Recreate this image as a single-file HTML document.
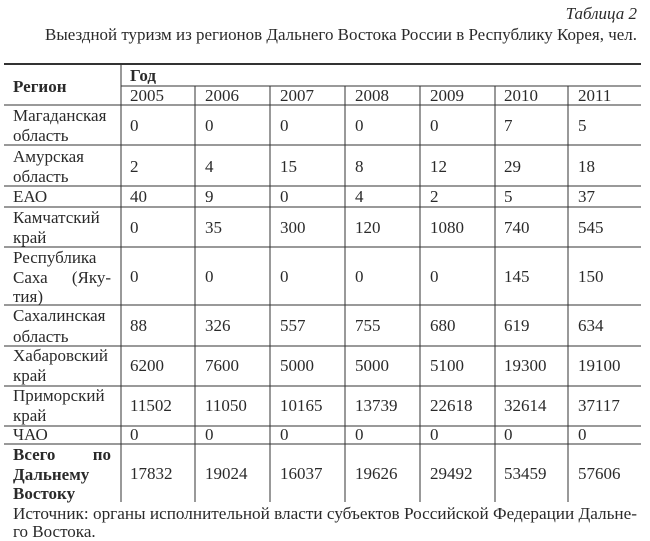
<!DOCTYPE html>
<html><head><meta charset="utf-8"><style>
html,body{margin:0;padding:0;background:#fff;width:650px;height:541px;overflow:hidden}
svg text{font-family:"Liberation Serif",serif;font-size:17px;fill:#2a2a2a}
.b{font-weight:bold}
</style></head><body>
<svg width="650" height="541" xmlns="http://www.w3.org/2000/svg">
<text x="637" y="19" text-anchor="end" font-style="italic">Таблица 2</text>
<text x="637" y="40" text-anchor="end" textLength="592" lengthAdjust="spacingAndGlyphs">Выездной туризм из регионов Дальнего Востока России в Республику Корея, чел.</text>
<g stroke="#333" stroke-width="1">
<line x1="4" y1="64" x2="641" y2="64" stroke-width="2"/>
<line x1="121" y1="86" x2="641" y2="86"/>
<line x1="4" y1="105" x2="641" y2="105"/>
<line x1="4" y1="145" x2="641" y2="145"/>
<line x1="4" y1="186" x2="641" y2="186"/>
<line x1="4" y1="207" x2="641" y2="207"/>
<line x1="4" y1="247" x2="641" y2="247"/>
<line x1="4" y1="305" x2="641" y2="305"/>
<line x1="4" y1="346" x2="641" y2="346"/>
<line x1="4" y1="386" x2="641" y2="386"/>
<line x1="4" y1="426" x2="641" y2="426"/>
<line x1="4" y1="444" x2="641" y2="444"/>
<line x1="121" y1="64" x2="121" y2="502"/>
<line x1="195" y1="86" x2="195" y2="502"/>
<line x1="270" y1="86" x2="270" y2="502"/>
<line x1="345" y1="86" x2="345" y2="502"/>
<line x1="420" y1="86" x2="420" y2="502"/>
<line x1="495" y1="86" x2="495" y2="502"/>
<line x1="568" y1="86" x2="568" y2="502"/>
</g>
<text x="13" y="92" class="b">Регион</text>
<text x="130" y="81" class="b">Год</text>
<g>
<text x="130" y="101">2005</text><text x="205" y="101">2006</text><text x="280" y="101">2007</text><text x="355" y="101">2008</text><text x="430" y="101">2009</text><text x="504" y="101">2010</text><text x="578" y="101">2011</text>
</g>
<text x="13" y="121">Магаданская</text><text x="13" y="141">область</text>
<text x="130" y="131">0</text><text x="205" y="131">0</text><text x="280" y="131">0</text><text x="355" y="131">0</text><text x="430" y="131">0</text><text x="504" y="131">7</text><text x="578" y="131">5</text>
<text x="13" y="162">Амурская</text><text x="13" y="182">область</text>
<text x="130" y="172">2</text><text x="205" y="172">4</text><text x="280" y="172">15</text><text x="355" y="172">8</text><text x="430" y="172">12</text><text x="504" y="172">29</text><text x="578" y="172">18</text>
<text x="13" y="202">ЕАО</text>
<text x="130" y="202">40</text><text x="205" y="202">9</text><text x="280" y="202">0</text><text x="355" y="202">4</text><text x="430" y="202">2</text><text x="504" y="202">5</text><text x="578" y="202">37</text>
<text x="13" y="223">Камчатский</text><text x="13" y="243">край</text>
<text x="130" y="233">0</text><text x="205" y="233">35</text><text x="280" y="233">300</text><text x="355" y="233">120</text><text x="430" y="233">1080</text><text x="504" y="233">740</text><text x="578" y="233">545</text>
<text x="13" y="263">Республика</text><text x="13" y="283">Саха</text><text x="111" y="283" text-anchor="end">(Яку-</text><text x="13" y="302">тия)</text>
<text x="130" y="282">0</text><text x="205" y="282">0</text><text x="280" y="282">0</text><text x="355" y="282">0</text><text x="430" y="282">0</text><text x="504" y="282">145</text><text x="578" y="282">150</text>
<text x="13" y="321">Сахалинская</text><text x="13" y="342">область</text>
<text x="130" y="331">88</text><text x="205" y="331">326</text><text x="280" y="331">557</text><text x="355" y="331">755</text><text x="430" y="331">680</text><text x="504" y="331">619</text><text x="578" y="331">634</text>
<text x="13" y="361">Хабаровский</text><text x="13" y="381">край</text>
<text x="130" y="371">6200</text><text x="205" y="371">7600</text><text x="280" y="371">5000</text><text x="355" y="371">5000</text><text x="430" y="371">5100</text><text x="504" y="371">19300</text><text x="578" y="371">19100</text>
<text x="13" y="401">Приморский</text><text x="13" y="421">край</text>
<text x="130" y="411">11502</text><text x="205" y="411">11050</text><text x="280" y="411">10165</text><text x="355" y="411">13739</text><text x="430" y="411">22618</text><text x="504" y="411">32614</text><text x="578" y="411">37117</text>
<text x="13" y="440">ЧАО</text>
<text x="130" y="440">0</text><text x="205" y="440">0</text><text x="280" y="440">0</text><text x="355" y="440">0</text><text x="430" y="440">0</text><text x="504" y="440">0</text><text x="578" y="440">0</text>
<text x="13" y="460" class="b">Всего</text><text x="111" y="460" class="b" text-anchor="end">по</text>
<text x="13" y="480" class="b">Дальнему</text><text x="13" y="499" class="b">Востоку</text>
<text x="130" y="479">17832</text><text x="205" y="479">19024</text><text x="280" y="479">16037</text><text x="355" y="479">19626</text><text x="430" y="479">29492</text><text x="504" y="479">53459</text><text x="578" y="479">57606</text>
<text x="13" y="519" textLength="624" lengthAdjust="spacingAndGlyphs">Источник: органы исполнительной власти субъектов Российской Федерации Дальне-</text>
<text x="13" y="537">го Востока.</text>
</svg>
</body></html>
